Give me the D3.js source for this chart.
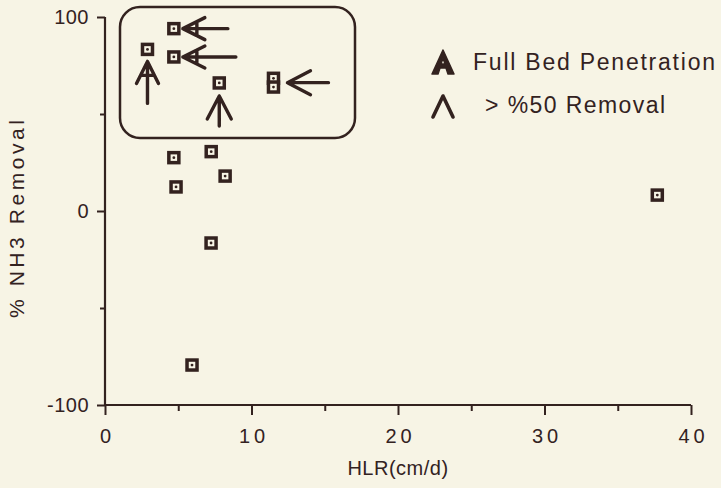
<!DOCTYPE html>
<html>
<head>
<meta charset="utf-8">
<script src="https://cdn.jsdelivr.net/npm/d3@7"></script>
<style>
  html, body { margin: 0; padding: 0; background: #f7f4e5; }
  svg { display: block; }
  text { font-family: "Liberation Sans", Arial, Helvetica, sans-serif; fill: #33221f; }
</style>
</head>
<body>
<svg id="chart" width="721" height="488"></svg>
<script>
// ---- data ----
const hlr     = [2.9, 4.7, 4.7, 7.8, 11.5, 11.5, 4.7, 7.25, 8.2, 4.85, 7.24, 5.94, 37.7];
const removal = [83.3, 94, 79.4, 66, 68.4, 63.9, 27.5, 30.6, 18, 12.4, -16.5, -79.4, 8.2];
const xTicks = [0, 10, 20, 30, 40];
const xMinorTicks = [5, 15, 25, 35];
const yTicks = [-100, 0, 100];
const yMinorTicks = [-50, 50];
// annotation arrows: which point, direction it comes from, kind
const arrowPoint = [0, 1, 2, 3, 4];
const arrowFrom  = ["below", "right", "right", "below", "right"];
const arrowKind  = ["full", "full", "full", "half", "half"];
const legendLabels = ["Full Bed Penetration", "> %50 Removal"];

const ink = "#33221f", bg = "#f7f4e5";
const svg = d3.select("#chart");
const x = d3.scaleLinear().domain([0, 40]).range([105, 691]);
const y = d3.scaleLinear().domain([-100, 100]).range([405, 17]);
const fmt = d => String(d);

// ---- axes ----
const gx = svg.append("g").attr("transform", `translate(0,${y(-100)})`);
gx.call(d3.axisBottom(x).tickValues(xTicks).tickSize(10).tickFormat(fmt));
gx.append("g").call(d3.axisBottom(x).tickValues(xMinorTicks).tickSize(6).tickFormat(""));
const gy = svg.append("g").attr("transform", `translate(${x(0)},0)`);
gy.call(d3.axisLeft(y).tickValues(yTicks).tickSize(8).tickFormat(fmt));
gy.append("g").call(d3.axisLeft(y).tickValues(yMinorTicks).tickSize(5).tickFormat(""));
svg.selectAll(".domain").remove();
svg.append("line").attr("x1", x(0)).attr("x2", x(40)).attr("y1", y(-100)).attr("y2", y(-100))
  .attr("stroke", ink).attr("stroke-width", 2.2);
svg.append("line").attr("x1", x(0)).attr("x2", x(0)).attr("y1", y(-100)).attr("y2", y(100))
  .attr("stroke", ink).attr("stroke-width", 2.2);
svg.selectAll(".tick line").attr("stroke", ink).attr("stroke-width", 2);
gx.selectAll(".tick text").attr("font-size", 20).attr("dy", "1.25em").attr("letter-spacing", 4)
  .attr("dx", 2).attr("fill", ink).attr("font-family", "Liberation Sans, Arial, sans-serif");
gy.selectAll(".tick text").attr("font-size", 20).attr("dx", "-0.25em").attr("letter-spacing", 0.5)
  .attr("fill", ink).attr("font-family", "Liberation Sans, Arial, sans-serif");

svg.append("text").attr("x", 398).attr("y", 475).attr("text-anchor", "middle")
  .attr("font-size", 20).attr("letter-spacing", 0.5).text("HLR(cm/d)");
svg.append("text").attr("transform", `translate(24,219) rotate(-90)`).attr("text-anchor", "middle")
  .attr("font-size", 21).attr("textLength", 198).attr("lengthAdjust", "spacing").text("% NH3 Removal");

// ---- rounded box around the highlighted points ----
svg.append("rect").attr("x", 120).attr("y", 7).attr("width", 235).attr("height", 131)
  .attr("rx", 20).attr("fill", "none").attr("stroke", ink).attr("stroke-width", 2.5);

// ---- arrow shapes (local coords, tip at origin pointing up) ----
function headPath(kind, len) {
  let p = `M0,0 L0,${len}`;
  if (kind === "full") p += " M-11,22 L0,0 L11,22 M-7,14 L7,14";
  else p += " M-12,23 L0,0 L12,23";
  return p;
}
const arrowRot = { below: 0, right: -90 };
const arrowLen = [42, 45, 53, 30, 41];
arrowPoint.forEach((pi, k) => {
  const from = arrowFrom[k];
  const px = x(hlr[pi]);
  const py = k === 4 ? (y(removal[4]) + y(removal[5])) / 2 : y(removal[pi]);
  const off = arrowKind[k] === "half" ? (from === "below" ? 13 : 14) : (from === "below" ? 12 : 9);
  const tx = from === "right" ? px + off : px;
  const ty = from === "below" ? py + off : py;
  svg.append("path").attr("d", headPath(arrowKind[k], arrowLen[k]))
    .attr("transform", `translate(${tx},${ty}) rotate(${arrowRot[from]})`)
    .attr("fill", "none").attr("stroke", ink).attr("stroke-width", 3.4)
    .attr("stroke-linecap", "round").attr("stroke-linejoin", "round");
});

// ---- points ----
const pts = svg.append("g").selectAll("g").data(hlr.map((d, i) => [d, removal[i]])).join("g")
  .attr("transform", d => `translate(${x(d[0])},${y(d[1])})`);
pts.append("rect").attr("x", -5).attr("y", -5).attr("width", 10).attr("height", 10)
  .attr("fill", bg).attr("stroke", ink).attr("stroke-width", 3.5);
pts.append("circle").attr("r", 1.4).attr("fill", ink);

// ---- legend ----
svg.append("path")
  .attr("d", "M443,50 L432,74 L438,74 L440,68 L446,68 L448,74 L454,74 Z M443,58 L441,64 L445,64 Z")
  .attr("fill", ink).attr("fill-rule", "evenodd").attr("stroke", ink).attr("stroke-width", 1.5)
  .attr("stroke-linejoin", "round");
svg.append("path").attr("d", "M433,117 L443,96 L453,117")
  .attr("fill", "none").attr("stroke", ink).attr("stroke-width", 3.6).attr("stroke-linecap", "round")
  .attr("stroke-linejoin", "round");
svg.append("text").attr("x", 473).attr("y", 70).attr("font-size", 23)
  .attr("textLength", 242).attr("lengthAdjust", "spacing").text(legendLabels[0]);
svg.append("text").attr("x", 485).attr("y", 113).attr("font-size", 23)
  .attr("textLength", 180).attr("lengthAdjust", "spacing").text(legendLabels[1]);
</script>
</body>
</html>
